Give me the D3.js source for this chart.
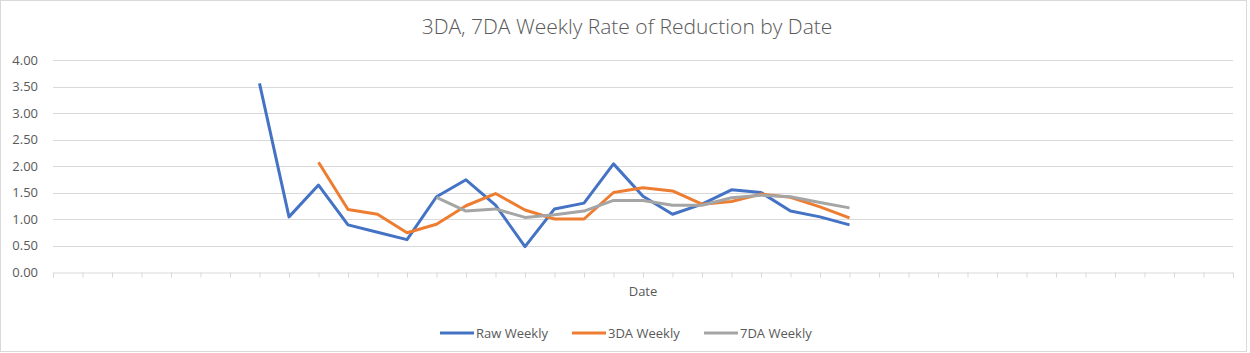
<!DOCTYPE html>
<html>
<head>
<meta charset="utf-8">
<script src="https://cdn.jsdelivr.net/npm/d3@7"></script>
<style>
  body { margin: 0; background: #fff; }
  text { font-family: "Open Sans", "Liberation Sans", sans-serif; fill: #595959; }
</style>
</head>
<body>
<div id="chart"></div>
<script>
// category slots on the date axis (no labels shown)
var categories = ["1","2","3","4","5","6","7","8","9","10","11","12","13","14","15","16","17","18","19","20",
                  "21","22","23","24","25","26","27","28","29","30","31","32","33","34","35","36","37","38","39","40","41"];

var rawWeekly = [null,null,null,null,null,null,null,3.56,1.04,1.64,0.89,0.75,0.61,1.42,1.74,1.26,0.48,1.19,1.30,2.04,
                 1.43,1.09,1.28,1.55,1.50,1.15,1.04,0.89];
var da3Weekly = [null,null,null,null,null,null,null,null,null,2.07,1.18,1.09,0.74,0.90,1.25,1.48,1.17,1.00,1.00,1.50,
                 1.59,1.53,1.28,1.33,1.47,1.41,1.23,1.02];
var da7Weekly = [null,null,null,null,null,null,null,null,null,null,null,null,null,1.41,1.15,1.19,1.03,1.08,1.15,1.35,
                 1.35,1.26,1.26,1.40,1.45,1.42,1.31,1.21];

var yTicks = [0, 0.5, 1, 1.5, 2, 2.5, 3, 3.5, 4];

var series = [
  {name: "Raw Weekly", values: rawWeekly, color: "#4472C4"},
  {name: "3DA Weekly", values: da3Weekly, color: "#ED7D31"},
  {name: "7DA Weekly", values: da7Weekly, color: "#A5A5A5"}
];

var width = 1250, height = 353;
var margin = {top: 60, right: 17, bottom: 81, left: 53};

var svg = d3.select("#chart").append("svg")
    .attr("width", width)
    .attr("height", height);

// chart area frame
svg.append("rect")
    .attr("x", 0.5).attr("y", 0.5)
    .attr("width", width - 4).attr("height", height - 2)
    .attr("fill", "#fff")
    .attr("stroke", "#D9D9D9");

var x = d3.scalePoint()
    .domain(categories)
    .range([margin.left, width - margin.right]);

var y = d3.scaleLinear()
    .domain([0, 4])
    .range([height - margin.bottom, margin.top]);

// gridlines
svg.append("g")
    .selectAll("line")
    .data(yTicks.slice(1))
    .enter().append("line")
    .attr("x1", margin.left).attr("x2", width - margin.right)
    .attr("y1", function(d) { return Math.round(y(d)) + 0.5; })
    .attr("y2", function(d) { return Math.round(y(d)) + 0.5; })
    .attr("stroke", "#D9D9D9");

// axis-y labels
svg.append("g")
    .selectAll("text")
    .data(yTicks)
    .enter().append("text")
    .attr("x", 38)
    .attr("y", function(d) { return y(d); })
    .attr("dy", "0.35em")
    .attr("text-anchor", "end")
    .attr("font-size", "13px")
    .text(function(d) { return d.toFixed(2); });

// axis-x
var xAxis = svg.append("g")
    .attr("transform", "translate(0," + (Math.round(y(0)) + 0.5) + ")")
    .call(d3.axisBottom(x).tickSize(5).tickFormat(""));
xAxis.select(".domain").attr("stroke", "#D9D9D9");
xAxis.selectAll(".tick line").attr("stroke", "#D9D9D9");

svg.append("text")
    .attr("x", (margin.left + width - margin.right) / 2)
    .attr("y", 296)
    .attr("text-anchor", "middle")
    .attr("font-size", "13px")
    .text("Date");

// title
svg.append("text")
    .attr("x", 627)
    .attr("y", 34)
    .attr("text-anchor", "middle")
    .attr("font-size", "21px")
    .attr("font-weight", 300)
    .text("3DA, 7DA Weekly Rate of Reduction by Date");

// lines
var line = d3.line()
    .defined(function(d) { return d != null; })
    .x(function(d, i) { return x(categories[i]); })
    .y(function(d) { return y(d); });

svg.selectAll(".line")
    .data(series)
    .enter().append("path")
    .attr("class", "line")
    .attr("fill", "none")
    .attr("stroke", function(d) { return d.color; })
    .attr("stroke-width", 3)
    .attr("stroke-linejoin", "round")
    .attr("d", function(d) { return line(d.values); });

// legend
var legendX = [440, 572, 704];
var lg = svg.selectAll(".legend")
    .data(series)
    .enter().append("g")
    .attr("transform", function(d, i) { return "translate(" + legendX[i] + ",333)"; });
lg.append("line")
    .attr("x1", 0).attr("x2", 34)
    .attr("stroke", function(d) { return d.color; })
    .attr("stroke-width", 3);
lg.append("text")
    .attr("x", 36)
    .attr("dy", "0.35em")
    .attr("font-size", "13px")
    .text(function(d) { return d.name; });
</script>
</body>
</html>
